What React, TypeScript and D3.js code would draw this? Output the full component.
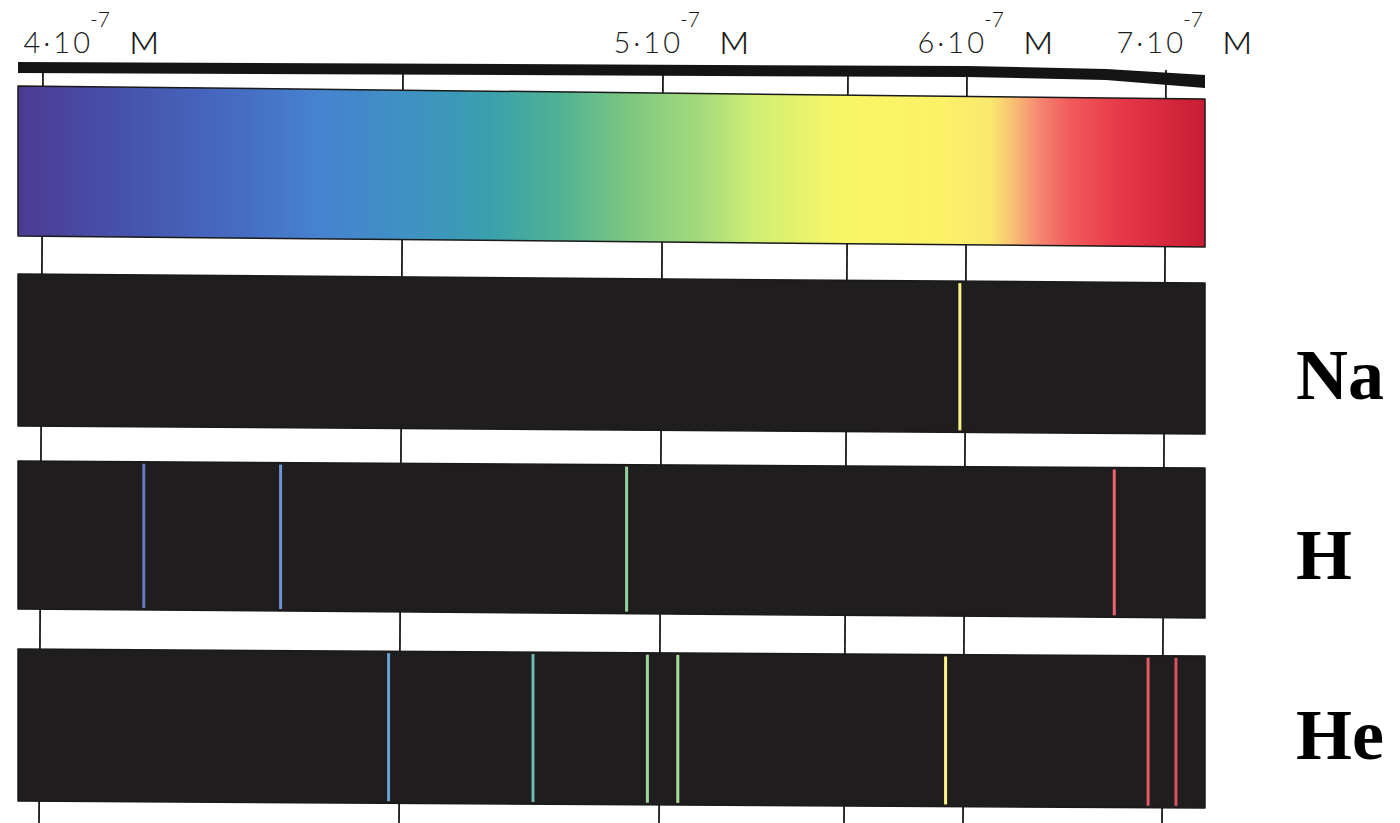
import { useEffect, useRef } from 'react';
import * as d3 from 'd3';

// wavelengths in nm (axis labelled in 10^-7 m)
const TICK_WAVELENGTHS = [400, 450, 500, 550, 600, 700];
const LABELED_TICKS = [400, 500, 600, 700];
const NA_LINES = [597];
const H_LINES = [414, 433, 493, 674];
const HE_LINES = [448, 475, 497, 504, 591, 691, 705];
const SPECTRUM_STOPS = [396, 410, 427, 438, 452, 466, 480, 493, 512, 524, 548, 589, 612, 622, 637, 652, 677, 720];
const SPECTRUM_COLORS = [
  '#4d3a92', '#4650aa', '#466cc2', '#4682d0', '#3f92c2', '#3a9fae', '#50b294', '#7cc682', '#a8dc7c',
  '#cfee74', '#f8f666', '#fcf268', '#fae86e', '#f8c474', '#f58470', '#f05a5c', '#e63848', '#c81c34',
];

const WIDTH = 1400;
const HEIGHT = 823;

export default function App() {
  const svgRef = useRef<SVGSVGElement>(null);

  useEffect(() => {
    if (!svgRef.current) return;
    const svg = d3.select(svgRef.current);
    svg.selectAll('*').remove();

    // prism dispersion: piecewise scale through the printed tick marks
    const x = d3.scaleLinear().domain(TICK_WAVELENGTHS).range([43, 403, 663, 848, 967, 1166]);
    const bandLeft = 18;
    const bandRight = 1205;
    const color = d3.scaleLinear<string>().domain(SPECTRUM_STOPS).range(SPECTRUM_COLORS);

    // band rows, slightly skewed like the printed page: [left, right] y values
    const rows = [
      { key: 'spectrum', top: [86, 99], bottom: [236, 247] },
      { key: 'Na', top: [274, 283], bottom: [426, 434], lines: NA_LINES, labelY: 399 },
      { key: 'H', top: [461, 468], bottom: [609, 618], lines: H_LINES, labelY: 579 },
      { key: 'He', top: [649, 656], bottom: [801, 808], lines: HE_LINES, labelY: 759 },
    ];
    const yAt = (pair: number[], px: number) =>
      pair[0] + (pair[1] - pair[0]) * (px - bandLeft) / (bandRight - bandLeft);

    const defs = svg.append('defs');
    const grad = defs.append('linearGradient')
      .attr('id', 'spectrum-grad')
      .attr('gradientUnits', 'userSpaceOnUse')
      .attr('x1', bandLeft).attr('x2', bandRight).attr('y1', 0).attr('y2', 0);
    grad.selectAll('stop').data(SPECTRUM_STOPS).join('stop')
      .attr('offset', d => Math.max(0, Math.min(1, (x(d) - bandLeft) / (bandRight - bandLeft))))
      .attr('stop-color', (d, i) => SPECTRUM_COLORS[i]);

    // tick lines run behind every band
    svg.append('g').selectAll('line').data(TICK_WAVELENGTHS).join('line')
      .attr('x1', d => x(d)).attr('y1', 70)
      .attr('x2', d => x(d) - 4).attr('y2', HEIGHT)
      .attr('stroke', '#1b1b1b').attr('stroke-width', 1.8);

    // top axis bar
    const axisPath = d3.line()([
      [bandLeft, 62], [x(600), 66], [x(700) - 60, 69], [bandRight, 75],
      [bandRight, 88], [x(700) - 60, 80], [x(600), 77], [bandLeft, 73],
    ]) + 'Z';
    svg.append('path').attr('d', axisPath).attr('fill', '#141414');

    const bandPath = (r: typeof rows[number]) => d3.line()([
      [bandLeft, r.top[0]], [bandRight, r.top[1]], [bandRight, r.bottom[1]], [bandLeft, r.bottom[0]],
    ]) + 'Z';

    rows.forEach(r => {
      svg.append('path')
        .attr('d', bandPath(r))
        .attr('fill', r.key === 'spectrum' ? 'url(#spectrum-grad)' : '#1f1d1d')
        .attr('stroke', '#1a1a1a').attr('stroke-width', 1.5).attr('stroke-linejoin', 'round');

      if (!r.lines) return;
      svg.append('g').selectAll('line').data(r.lines).join('line')
        .attr('x1', d => x(d)).attr('x2', d => x(d))
        .attr('y1', d => yAt(r.top, x(d)) + 2)
        .attr('y2', d => yAt(r.bottom, x(d)) - 2)
        .attr('stroke', d => d3.interpolateRgb(color(d), '#ffffff')(0.2))
        .attr('stroke-width', 3);

      svg.append('text')
        .attr('x', 1296).attr('y', r.labelY!)
        .attr('font-family', '"Liberation Serif", "Times New Roman", serif')
        .attr('font-weight', 'bold').attr('font-size', 72).attr('fill', '#000')
        .text(r.key);
    });

    // wavelength labels: "4·10⁻⁷ м"
    const labels = svg.append('g')
      .attr('font-family', 'Lato, Roboto, "DejaVu Sans", sans-serif')
      .attr('font-weight', 300).attr('fill', '#1c1c1c');
    LABELED_TICKS.forEach(v => {
      const end = Math.max(x(v) + 20, 93);
      labels.append('text')
        .attr('x', end).attr('y', 53).attr('text-anchor', 'end')
        .attr('font-size', 29).attr('letter-spacing', 3)
        .text(`${v / 100}·10`);
      labels.append('text')
        .attr('x', end - 3).attr('y', 27)
        .attr('font-size', 21)
        .text('-7');
      labels.append('text')
        .attr('x', end + 36).attr('y', 54)
        .attr('font-size', 44)
        .text('м');
    });
  }, []);

  return (
    <div style={{ position: 'absolute', left: 0, top: 0, background: '#fff' }}>
      <svg ref={svgRef} width={WIDTH} height={HEIGHT} style={{ display: 'block' }} />
    </div>
  );
}
